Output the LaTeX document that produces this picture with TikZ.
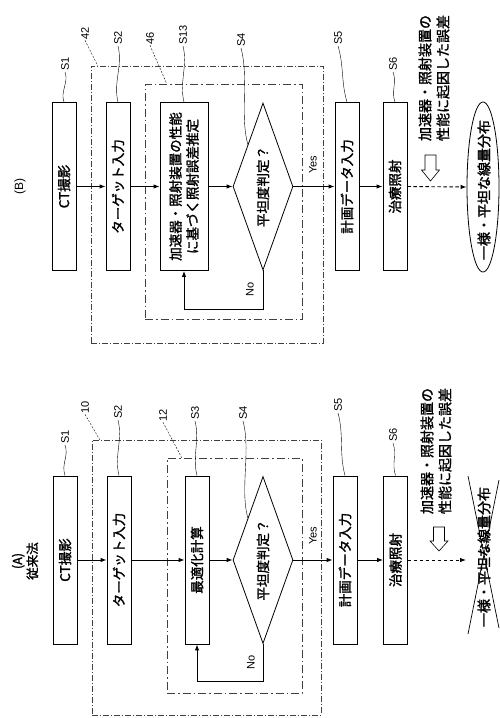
\documentclass[tikz,border=0pt]{standalone}
\usepackage{fontspec}
\setmainfont{Liberation Sans}
\newfontfamily\jp[FakeBold=1.6]{Noto Sans CJK JP}
\usetikzlibrary{arrows.meta,shapes.geometric,calc}
\begin{document}
\begin{tikzpicture}[x=1pt,y=-1pt,
  box/.style={draw, line width=0.9pt, rotate=90, minimum width=168pt, minimum height=24pt, inner sep=0pt, align=center, font=\jp\fontsize{13.5}{17}\selectfont},
  dec/.style={draw, diamond, line width=0.8pt, rotate=90, minimum width=167pt, minimum height=60pt, inner sep=0pt, aspect=2.8, font=\jp\fontsize{13.5}{16}\selectfont},
  lbl/.style={rotate=90, inner sep=1pt, font=\fontsize{11}{12}\selectfont},
  jtxt/.style={rotate=90, inner sep=0pt, align=center, font=\jp\fontsize{14}{18}\selectfont},
  lead/.style={line width=0.4pt},
  gdash/.style={line width=0.4pt, dash pattern=on 2pt off 1.5pt},
  outerg/.style={draw, black!75, line width=0.5pt, dash pattern=on 6pt off 2pt on 1pt off 2pt, inner sep=0pt},
  innerg/.style={draw, black!75, line width=0.5pt, dash pattern=on 8pt off 3pt on 1.5pt off 3pt, inner sep=0pt},
  flow/.style={line width=0.9pt, -{Latex[length=6pt,width=4.5pt]}},
  dflow/.style={line width=0.9pt, dash pattern=on 3.5pt off 2.5pt, -{Latex[length=6pt,width=4.5pt]}},
  hollow/.style={draw, line width=0.6pt, fill=white},
]
\useasboundingbox (0,0) rectangle (499,718);

% ================= Panel B (top) =================
\node[rotate=90, font=\fontsize{12}{14}\selectfont] (tB) at (20,186) {(B)};
\node[outerg, minimum width=232pt, minimum height=277pt] (g42) at (207,204.5) {};
\node[innerg, minimum width=157pt, minimum height=235pt] (g46) at (223.5,201.5) {};

\node[box] (b1) at (64,186.5) {CT撮影};
\node[box] (b2) at (118,186.5) {ターゲット入力};
\node[box, minimum height=48pt] (b13) at (184,186.5) {加速器・照射装置の性能\\に基づく照射誤差推定};
\node[dec] (bd) at (263,186.5) {平坦度判定？};
\node[box] (b5) at (347,186.5) {計画データ入力};
\node[box] (b6) at (395,186.5) {治療照射};
\node[draw, ellipse, line width=0.8pt, minimum width=32pt, minimum height=170pt, inner sep=0pt] (eB) at (483,187) {};
\node[jtxt] (uB) at (484,190) {一様・平坦な線量分布};
\node[jtxt] (errB) at (434,78) {加速器・照射装置の\\性能に起因した誤差};
\draw[hollow] (425,155) -- (436,155) -- (436,170) -- (439.5,170) -- (430.5,181) -- (421.5,170) -- (425,170) -- cycle;

\draw[flow] (b1.south) -- (b2.north);
\draw[flow] (b2.south) -- (b13.north);
\draw[flow] (b13.south) -- (bd.north);
\draw[flow] (bd.south) -- (b5.north);
\draw[flow] (b5.south) -- (b6.north);
\draw[dflow] (b6.south) -- (eB.west);
\draw[flow] (bd.west) -- ++(0,39) -| (b13.west);
\node[lbl] (noB) at (250,289) {No};
\node[lbl] (yesB) at (313,165) {Yes};

\node[lbl] (lb1) at (65,64) {S1};
\node[lbl] (lb42) at (85,33) {42};
\node[lbl] (lb2) at (118,38) {S2};
\node[lbl] (lb46) at (150,38) {46};
\node[lbl] (lb13) at (183,35) {S13};
\node[lbl] (lb4) at (241,40) {S4};
\node[lbl] (lb5) at (338,38) {S5};
\node[lbl] (lb6) at (393,64) {S6};
\draw[lead] (lb1.west) .. controls +(4,10) and +(-4,-10) .. (b1.east);
\draw[lead] (lb2.west) .. controls +(5,20) and +(-5,-20) .. (b2.east);
\draw[lead] (lb13.west) .. controls +(5,20) and +(-5,-20) .. (b13.east);
\draw[lead] (lb4.west) .. controls +(8,30) and +(-8,-30) .. (bd.north east);
\draw[lead] (lb5.west) .. controls +(6,20) and +(-6,-20) .. (b5.east);
\draw[lead] (lb6.west) .. controls +(4,10) and +(-4,-10) .. (b6.east);
\draw[gdash] (lb42.west) -- ($(g42.north west)+(7,0)$);
\draw[gdash] (lb46.west) -- ($(g46.north west)+(22,0)$);

% ================= Panel A (bottom) =================
\node[rotate=90, align=center, font=\jp\fontsize{12.5}{15}\selectfont] (tA) at (25,561) {(A)\\従来法};
\node[outerg, minimum width=229pt, minimum height=275pt] (g10) at (206.5,577.5) {};
\node[innerg, minimum width=135pt, minimum height=235pt] (g12) at (234.5,575.5) {};

\node[box] (a1) at (65,560) {CT撮影};
\node[box] (a2) at (119,560) {ターゲット入力};
\node[box] (a3) at (197,560) {最適化計算};
\node[dec] (ad) at (263,560) {平坦度判定？};
\node[box] (a5) at (345,560) {計画データ入力};
\node[box] (a6) at (395.5,560) {治療照射};
\coordinate (endA) at (466,560);
\node[jtxt] (uA) at (484,557) {一様・平坦な線量分布};
\draw[line width=0.7pt] (468,476) -- (499,628);
\draw[line width=0.7pt] (499,480) -- (468,634);
\node[jtxt] (errA) at (436,451) {加速器・照射装置の\\性能に起因した誤差};
\draw[hollow] (433.5,527) -- (444.5,527) -- (444.5,541) -- (448,541) -- (439,551) -- (430,541) -- (433.5,541) -- cycle;

\draw[flow] (a1.south) -- (a2.north);
\draw[flow] (a2.south) -- (a3.north);
\draw[flow] (a3.south) -- (ad.north);
\draw[flow] (ad.south) -- (a5.north);
\draw[flow] (a5.south) -- (a6.north);
\draw[dflow] (a6.south) -- (endA);
\draw[flow] (ad.west) -- ++(0,38) -| (a3.west);
\node[lbl] (noA) at (251,662) {No};
\node[lbl] (yesA) at (313,536) {Yes};

\node[lbl] (la1) at (65,437) {S1};
\node[lbl] (la10) at (85,407) {10};
\node[lbl] (la2) at (118,412) {S2};
\node[lbl] (la12) at (163,415) {12};
\node[lbl] (la3) at (195,413) {S3};
\node[lbl] (la4) at (243,413) {S4};
\node[lbl] (la5) at (338,405) {S5};
\node[lbl] (la6) at (393,435) {S6};
\draw[lead] (la1.west) .. controls +(4,12) and +(-4,-12) .. (a1.east);
\draw[lead] (la2.west) .. controls +(5,20) and +(-5,-20) .. (a2.east);
\draw[lead] (la3.west) .. controls +(5,20) and +(-5,-20) .. (a3.east);
\draw[lead] (la4.west) .. controls +(8,30) and +(-8,-30) .. (ad.north east);
\draw[lead] (la5.west) .. controls +(6,22) and +(-6,-22) .. (a5.east);
\draw[lead] (la6.west) .. controls +(4,12) and +(-4,-12) .. (a6.east);
\draw[gdash] (la10.west) -- ($(g10.north west)+(8,0)$);
\draw[gdash] (la12.west) -- ($(g12.north west)+(15,0)$);
\end{tikzpicture}
\end{document}
